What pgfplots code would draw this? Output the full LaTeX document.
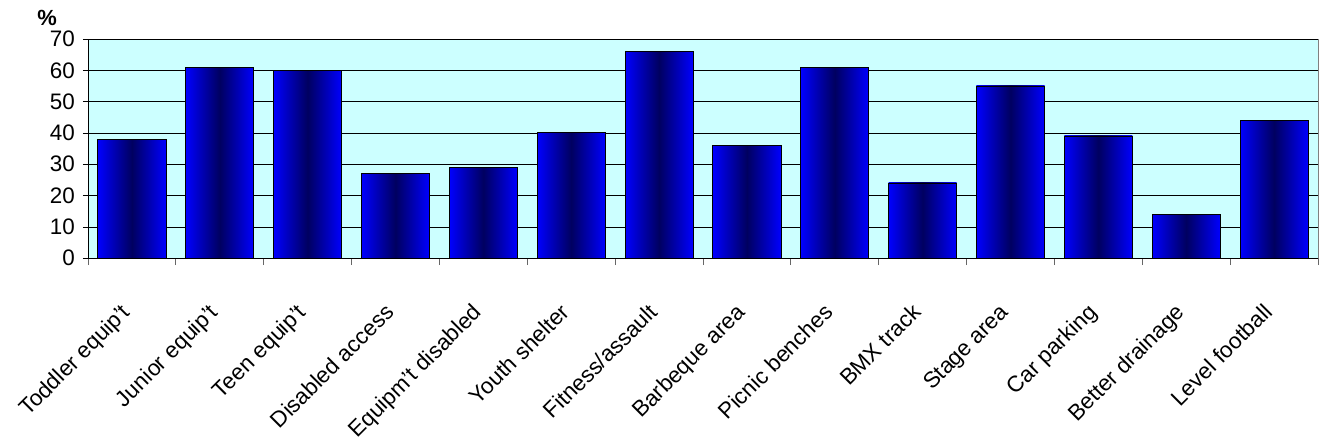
\documentclass[border=0pt]{standalone}
\usepackage{pgfplots}
\pgfplotsset{compat=1.18}
\usepackage{fontspec}
\setmainfont{Liberation Sans}
\definecolor{plotbg}{HTML}{CCFFFF}
\definecolor{barblue}{HTML}{0000FF}
\definecolor{barnavy}{HTML}{000060}
\pgfplotsset{onebar/.style={draw=black, thick, bar shift=0pt, bar width=0.775,
  left color=barblue, right color=barblue, middle color=barnavy}}
\begin{document}
\begin{tikzpicture}
\begin{axis}[
  scale only axis,
  width=1230bp, height=219bp,
  xmin=-0.5, xmax=13.5,
  ymin=0, ymax=70,
  ytick={0,10,...,70},
  xtick={0,...,13},
  xticklabels={Toddler equip't, Junior equip't, Teen equip't, Disabled access, Equipm't disabled, Youth shelter, Fitness/assault, Barbeque area, Picnic benches, BMX track, Stage area, Car parking, Better drainage, Level football},
  minor xtick={-0.5,0.5,...,13.5},
  major x tick style={draw=none},
  minor x tick style={gray!80!black, thick},
  minor tick length=7bp,
  major tick length=5bp,
  tick align=outside,
  tick pos=left,
  ytick style={black, thin},
  axis x line*=bottom,
  axis y line*=left,
  axis line style={black, thick},
  axis background/.style={fill=plotbg, draw=gray, thick},
  ymajorgrids,
  grid style={black, thin},
  ybar,
  /pgf/number format/assume math mode=true,
  yticklabel style={font=\fontsize{22.5}{23}\selectfont, xshift=-6bp, inner sep=2bp},
  xticklabel style={yshift=-39bp, xshift=-12bp, rotate=45, anchor=north east, inner sep=0pt, font=\fontsize{22.5}{24}\selectfont},
  clip=false,
]
\addplot[onebar] coordinates {(0,38)};
\addplot[onebar] coordinates {(1,61)};
\addplot[onebar] coordinates {(2,60)};
\addplot[onebar] coordinates {(3,27)};
\addplot[onebar] coordinates {(4,29)};
\addplot[onebar] coordinates {(5,40)};
\addplot[onebar] coordinates {(6,66)};
\addplot[onebar] coordinates {(7,36)};
\addplot[onebar] coordinates {(8,61)};
\addplot[onebar] coordinates {(9,24)};
\addplot[onebar] coordinates {(10,55)};
\addplot[onebar] coordinates {(11,39)};
\addplot[onebar] coordinates {(12,14)};
\addplot[onebar] coordinates {(13,44)};
\node[font=\bfseries\fontsize{22}{24}\selectfont] at (rel axis cs:0,1) [xshift=-41bp, yshift=21bp] {\%};
\end{axis}
\pgfresetboundingbox
\path (-88bp,-185bp) rectangle (1233bp,258bp);
\end{tikzpicture}
\end{document}
